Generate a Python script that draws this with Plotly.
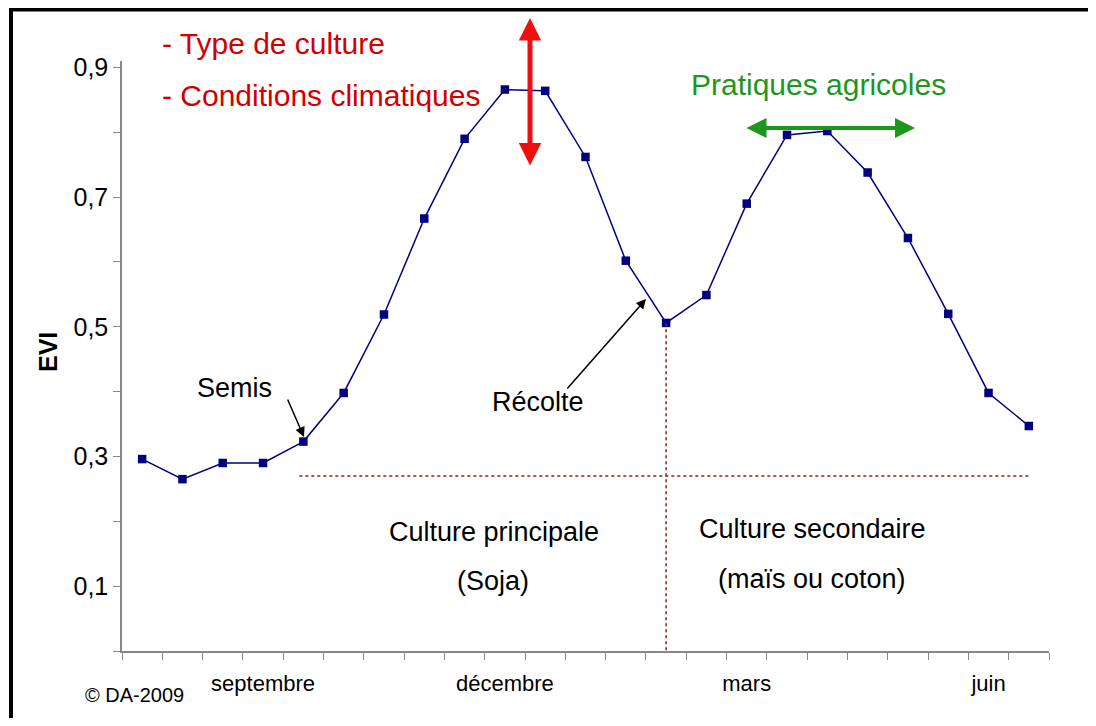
import plotly.graph_objects as go

# EVI time series (one value per 16-day composite)
periode = list(range(23))
evi = [0.296, 0.265, 0.290, 0.290, 0.323, 0.398, 0.519, 0.667, 0.790, 0.866,
       0.864, 0.762, 0.602, 0.506, 0.549, 0.690, 0.796, 0.802, 0.738, 0.637,
       0.520, 0.398, 0.347]

mois_pos = [3, 9, 15, 21]
mois_lbl = ["septembre", "décembre", "mars", "juin"]

seuil = 0.27          # horizontal dotted line
recolte_idx = 13      # harvest point (vertical dotted line)

# page body has an 8px margin; positions below are in screen pixels
OFF = 8
FW, FH = 1088, 710
PL, PT, PW, PH = 122, 61, 927, 590       # plot area on screen
ml, mt = PL - OFF, PT - OFF
mr, mb = FW - ml - PW, FH - mt - PH


def px(x):
    return (x - PL) / PW


def py(y):
    return (PT + PH - y) / PH


FONT = "Liberation Sans, Arial, sans-serif"
RED_TXT = "#d00000"
RED_ARW = "#ee1010"
GREEN = "#1e961e"
NAVY = "#000080"
DOT = "#8e1c1c"

fig = go.Figure()
fig.add_trace(go.Scatter(
    x=periode, y=evi, mode="lines+markers",
    line=dict(color=NAVY, width=1.5),
    marker=dict(symbol="square", size=8.5, color=NAVY),
    showlegend=False, hoverinfo="skip"))

# dotted reference lines
fig.add_shape(type="line", xref="x", yref="y", x0=3.9, x1=22, y0=seuil, y1=seuil,
              line=dict(color=DOT, width=1.5, dash="dot"))
fig.add_shape(type="line", xref="x", yref="y", x0=recolte_idx, x1=recolte_idx,
              y0=-0.008, y1=evi[recolte_idx],
              line=dict(color=DOT, width=1.5, dash="dot"))

# black frame on top and left
fig.add_shape(type="line", xref="paper", yref="paper", x0=px(9), x1=px(1100),
              y0=py(9.5), y1=py(9.5), line=dict(color="black", width=4))
fig.add_shape(type="line", xref="paper", yref="paper", x0=px(11), x1=px(11),
              y0=py(8), y1=py(730), line=dict(color="black", width=4))

ann = []


def txt(s, x, y, size, color="black", xanchor="center", bold=False):
    ann.append(dict(text=("<b>%s</b>" % s) if bold else s, x=px(x), y=py(y),
                    xref="paper", yref="paper", showarrow=False,
                    xanchor=xanchor, yanchor="middle",
                    font=dict(family=FONT, size=size, color=color)))


def arrow(x, y, tx, ty, color, width, size, both=False):
    ann.append(dict(text="", x=px(x), y=py(y), xref="paper", yref="paper",
                    ax=tx - x, ay=ty - y, axref="pixel", ayref="pixel",
                    showarrow=True, arrowhead=2, arrowsize=size,
                    arrowwidth=width, arrowcolor=color,
                    arrowside="end+start" if both else "end",
                    standoff=0, startstandoff=0))


txt("- Type de culture", 160, 43, 30, RED_TXT, "left")
txt("- Conditions climatiques", 160, 96, 30, RED_TXT, "left")
txt("Pratiques agricoles", 818, 84, 30, GREEN)
txt("Semis", 234, 388, 27)
txt("Récolte", 538, 402, 27)
txt("Culture principale", 494, 532, 27)
txt("(Soja)", 493, 581, 27)
txt("Culture secondaire", 812, 529, 27)
txt("(maïs ou coton)", 812, 579, 27)
txt("© DA-2009", 83, 695, 20, "black", "left")
txt("EVI", 48, 352, 25, "black", bold=True)
ann[-1]["textangle"] = -90

arrow(530, 18, 530, 167, RED_ARW, 5, 0.9, both=True)
arrow(915, 128, 745, 128, GREEN, 4, 1, both=True)
arrow(304, 437, 287, 398, "black", 1.5, 1.3)
arrow(646, 299, 566, 390, "black", 1.5, 1.3)

fig.update_layout(
    width=FW, height=FH,
    margin=dict(l=ml, r=mr, t=mt, b=mb),
    paper_bgcolor="white", plot_bgcolor="white",
    separators=", ",
    font=dict(family=FONT, color="black"),
    annotations=ann,
    xaxis=dict(range=[-0.5, 22.5], showgrid=False, zeroline=False,
               showline=True, linecolor="#888", linewidth=1.5,
               tickmode="array", tickvals=mois_pos, ticktext=mois_lbl,
               ticks="outside", ticklen=12, tickcolor="rgba(0,0,0,0)",
               tickfont=dict(size=22),
               minor=dict(tickmode="linear", tick0=-0.5, dtick=1,
                          ticks="outside", ticklen=7, tickcolor="#888",
                          tickwidth=1, showgrid=False)),
    yaxis=dict(range=[0, 0.91], showgrid=False, zeroline=False,
               showline=True, linecolor="#888", linewidth=1.5,
               tickmode="array", tickvals=[0.1, 0.3, 0.5, 0.7, 0.9],
               tickformat=".1f", ticks="outside", ticklen=7, tickcolor="#888",
               tickfont=dict(size=25),
               minor=dict(tickmode="linear", tick0=0, dtick=0.1,
                          ticks="outside", ticklen=7, tickcolor="#888",
                          showgrid=False)),
)

fig.write_html("out.html")
